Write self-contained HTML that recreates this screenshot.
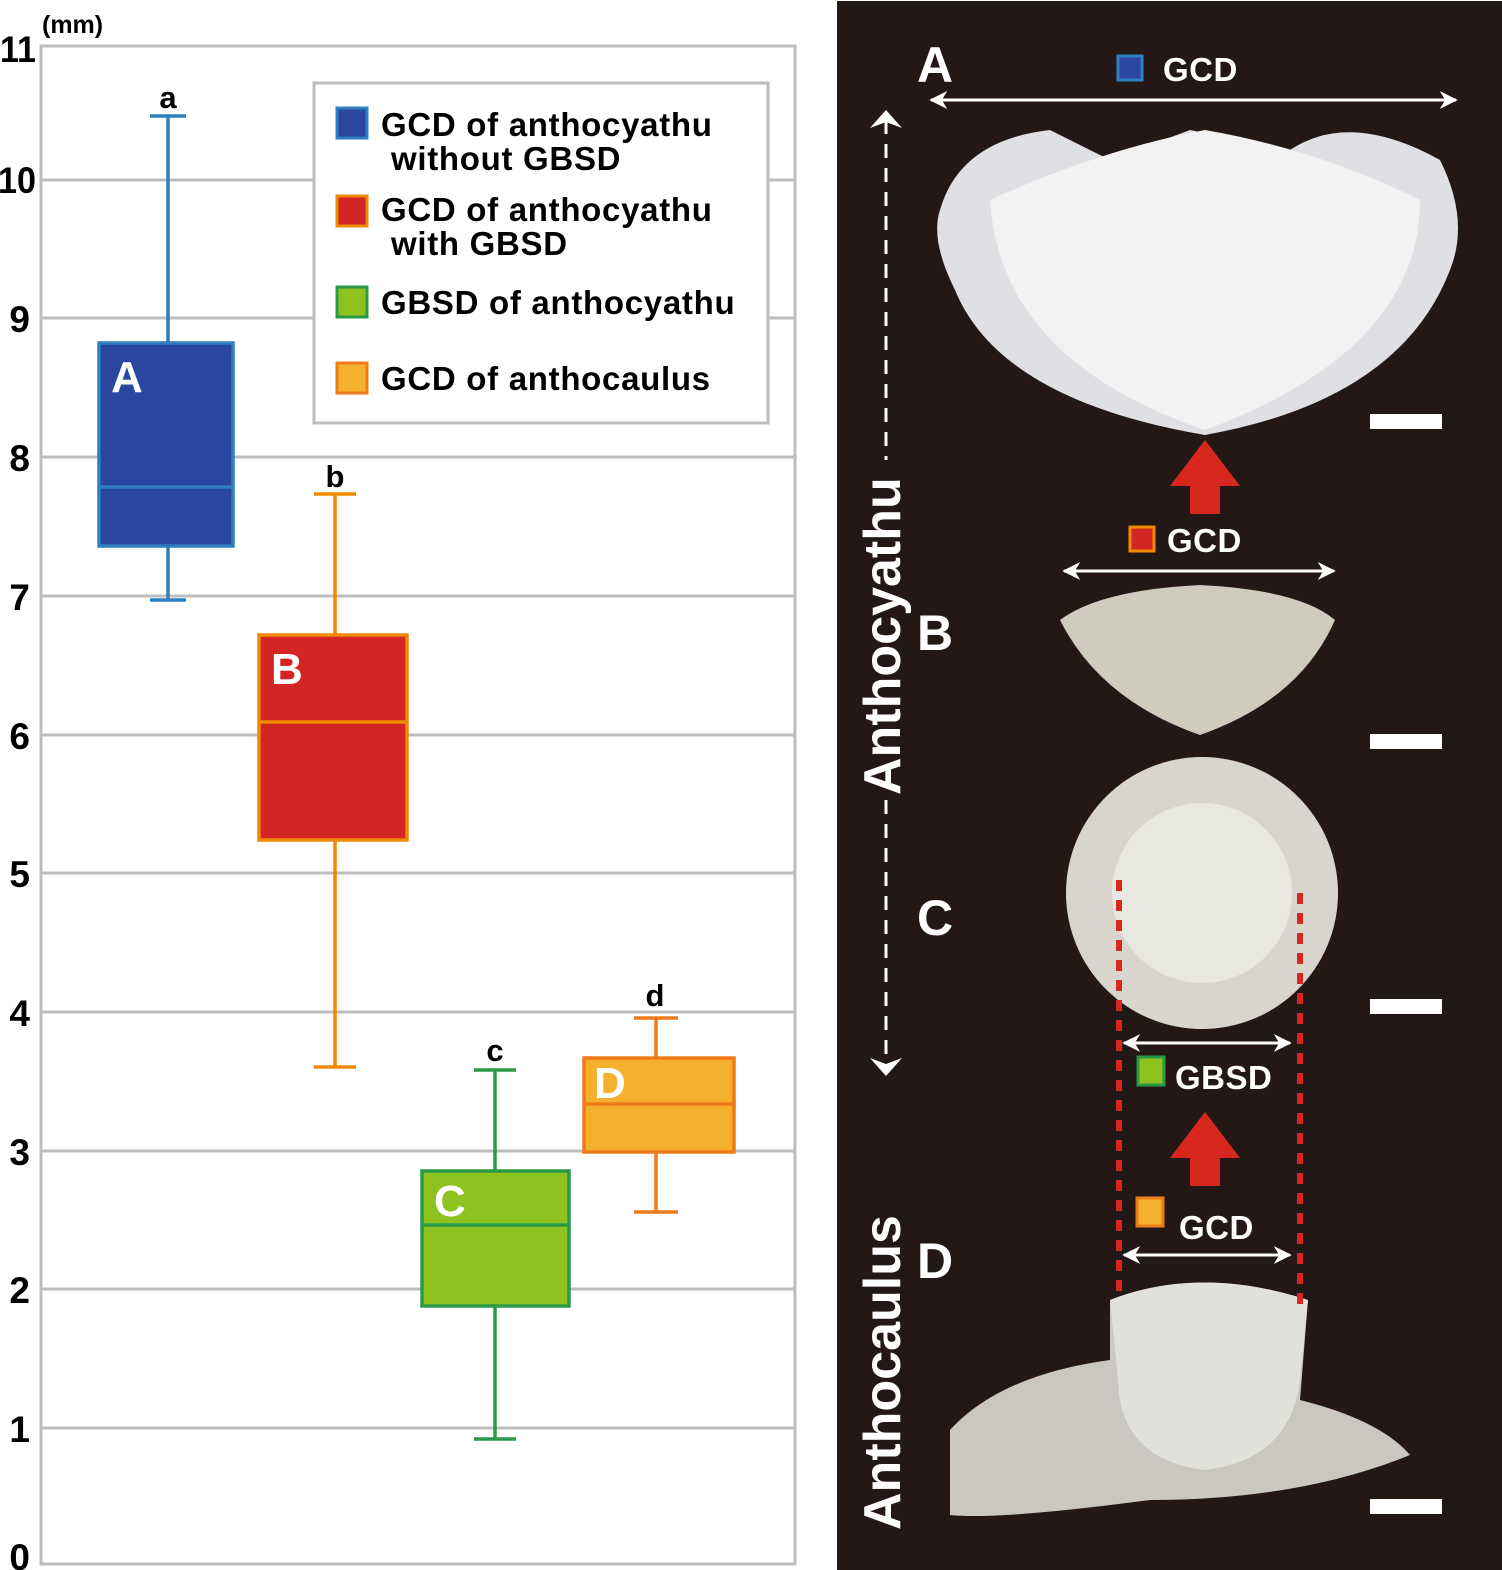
<!DOCTYPE html>
<html><head><meta charset="utf-8"><style>
html,body{margin:0;padding:0;background:#fff;}
svg{display:block;font-family:"Liberation Sans",sans-serif;font-weight:bold;}
</style></head><body>
<svg width="1502" height="1570" viewBox="0 0 1502 1570" xmlns="http://www.w3.org/2000/svg">
<defs>
<marker id="ah" viewBox="0 0 10 10" refX="9" refY="5" markerWidth="6" markerHeight="6" orient="auto-start-reverse"><path d="M0,0 L10,5 L0,10 L3,5z" fill="#fff"/></marker>
</defs>
<g stroke="#bdbdbd" stroke-width="3">
<line x1="41" y1="180" x2="795" y2="180"/>
<line x1="41" y1="318" x2="795" y2="318"/>
<line x1="41" y1="457" x2="797" y2="457"/>
<line x1="41" y1="596" x2="795" y2="596"/>
<line x1="41" y1="735" x2="795" y2="735"/>
<line x1="41" y1="873" x2="795" y2="873"/>
<line x1="41" y1="1012" x2="795" y2="1012"/>
<line x1="41" y1="1151" x2="795" y2="1151"/>
<line x1="41" y1="1289" x2="795" y2="1289"/>
<line x1="41" y1="1428" x2="795" y2="1428"/>
<rect x="41" y="46" width="754" height="1518" fill="none"/>
</g>
<g font-size="37" fill="#000" text-anchor="end">
<text x="36" y="62" textLength="36" lengthAdjust="spacingAndGlyphs">11</text><text x="36" y="193" textLength="38" lengthAdjust="spacingAndGlyphs">10</text><text x="30" y="332">9</text><text x="30" y="471">8</text><text x="30" y="610">7</text><text x="30" y="749">6</text><text x="30" y="887">5</text><text x="30" y="1026">4</text><text x="30" y="1165">3</text><text x="30" y="1303">2</text><text x="30" y="1442">1</text><text x="30" y="1570">0</text>
</g>
<text x="42" y="33" font-size="25">(mm)</text>
<rect x="314" y="83" width="454" height="340" fill="#fff" stroke="#bdbdbd" stroke-width="3"/>
<g font-size="33" fill="#000" letter-spacing="0.7">
<rect x="337" y="108" width="30" height="30" fill="#2a47a0" stroke="#2f7fc0" stroke-width="3"/>
<text x="381" y="136">GCD of anthocyathu</text><text x="391" y="170">without GBSD</text>
<rect x="337" y="196" width="30" height="30" fill="#d42525" stroke="#f08a00" stroke-width="3"/>
<text x="381" y="221">GCD of anthocyathu</text><text x="391" y="255">with GBSD</text>
<rect x="337" y="287" width="30" height="30" fill="#8dc21f" stroke="#2a9a48" stroke-width="3"/>
<text x="381" y="314">GBSD of anthocyathu</text>
<rect x="337" y="363" width="30" height="30" fill="#f5b02e" stroke="#ee7b1a" stroke-width="3"/>
<text x="381" y="390">GCD of anthocaulus</text>
</g>
<g stroke-width="3.5">
<g stroke="#2f7fc0"><line x1="168" y1="116" x2="168" y2="343"/><line x1="168" y1="546" x2="168" y2="600"/><line x1="150" y1="116" x2="186" y2="116"/><line x1="150" y1="600" x2="186" y2="600"/>
<rect x="99" y="343" width="134" height="203" fill="#2a47a0"/><line x1="99" y1="487" x2="233" y2="487"/></g>
<g stroke="#f08a00"><line x1="335" y1="494" x2="335" y2="635"/><line x1="335" y1="840" x2="335" y2="1067"/><line x1="314" y1="494" x2="356" y2="494"/><line x1="314" y1="1067" x2="356" y2="1067"/>
<rect x="259" y="635" width="148" height="205" fill="#d42525"/><line x1="259" y1="722" x2="407" y2="722"/></g>
<g stroke="#2a9a48"><line x1="495" y1="1070" x2="495" y2="1171"/><line x1="495" y1="1306" x2="495" y2="1439"/><line x1="474" y1="1070" x2="516" y2="1070"/><line x1="474" y1="1439" x2="516" y2="1439"/>
<rect x="422" y="1171" width="147" height="135" fill="#8dc21f"/><line x1="422" y1="1225" x2="569" y2="1225"/></g>
<g stroke="#ee7b1a"><line x1="656" y1="1018" x2="656" y2="1058"/><line x1="656" y1="1152" x2="656" y2="1212"/><line x1="634" y1="1018" x2="678" y2="1018"/><line x1="634" y1="1212" x2="678" y2="1212"/>
<rect x="584" y="1058" width="150" height="94" fill="#f5b02e"/><line x1="584" y1="1104" x2="734" y2="1104"/></g>
</g>
<g font-size="44" fill="#fff"><text x="111" y="392">A</text><text x="271" y="684">B</text><text x="434" y="1216">C</text><text x="594" y="1098">D</text></g>
<g font-size="31" fill="#000" text-anchor="middle"><text x="168" y="108">a</text><text x="335" y="487">b</text><text x="495" y="1061">c</text><text x="655" y="1006">d</text></g>
<rect x="837" y="1" width="665" height="1569" fill="#231815"/>
<g fill="#fff" font-size="50"><text x="917" y="82">A</text><text x="917" y="650">B</text><text x="917" y="935">C</text><text x="917" y="1278">D</text></g>
<g fill="#fff" font-size="33" letter-spacing="0.5">
<text x="1163" y="81">GCD</text><text x="1167" y="552">GCD</text><text x="1175" y="1089">GBSD</text><text x="1179" y="1239">GCD</text></g>
<rect x="1118" y="56" width="24" height="24" fill="#2a47a0" stroke="#2f7fc0" stroke-width="3"/>
<rect x="1130" y="527" width="24" height="24" fill="#d42525" stroke="#f08a00" stroke-width="3"/>
<rect x="1138" y="1057" width="26" height="28" fill="#8dc21f" stroke="#2a9a48" stroke-width="3"/>
<rect x="1137" y="1198" width="26" height="28" fill="#f5b02e" stroke="#ee7b1a" stroke-width="3"/>
<g stroke="#fff" stroke-width="3" marker-start="url(#ah)" marker-end="url(#ah)">
<line x1="931" y1="100" x2="1456" y2="100"/><line x1="1064" y1="571" x2="1334" y2="571"/>
<line x1="1124" y1="1043" x2="1290" y2="1043"/><line x1="1124" y1="1255" x2="1290" y2="1255"/></g>
<g stroke="#fff" stroke-width="3" stroke-dasharray="14,10"><line x1="886" y1="120" x2="886" y2="460"/><line x1="886" y1="800" x2="886" y2="1060"/></g>
<path d="M870,128 L886,110 L902,128 L886,122z M870,1058 L886,1076 L902,1058 L886,1064z" fill="#fff"/>
<g fill="#fff" font-size="52"><text transform="translate(900,795) rotate(-90)">Anthocyathu</text><text transform="translate(900,1530) rotate(-90)">Anthocaulus</text></g>
<g fill="#fff"><rect x="1370" y="414" width="72" height="15"/><rect x="1370" y="734" width="72" height="15"/><rect x="1370" y="999" width="72" height="15"/><rect x="1370" y="1499" width="72" height="15"/></g>
<path d="M940,210 Q960,140 1050,130 L1110,160 L1190,130 L1290,150 Q1350,110 1440,160 Q1470,220 1450,270 Q1400,400 1205,435 Q1000,400 955,290 Q930,240 940,210z" fill="#dfe0e3"/>
<path d="M990,200 Q1100,150 1205,130 Q1320,150 1420,200 Q1420,350 1205,430 Q1000,360 990,200z" fill="#f2f2f2"/>
<path d="M1060,620 Q1100,590 1200,585 Q1300,590 1335,620 Q1300,700 1200,735 Q1100,700 1060,620z" fill="#cfcbbd"/>
<circle cx="1202" cy="893" r="136" fill="#d8d6cc"/><circle cx="1202" cy="893" r="90" fill="#e8e7e0"/>
<path d="M950,1430 Q1000,1375 1110,1360 L1110,1300 Q1200,1265 1308,1300 L1300,1400 Q1380,1420 1410,1455 Q1300,1500 1150,1500 Q1000,1520 950,1515z" fill="#c9c7bf"/>
<path d="M1110,1300 Q1200,1265 1308,1300 L1300,1380 Q1290,1460 1205,1470 Q1120,1460 1118,1380z" fill="#e0e1da"/>
<g fill="#d8271e"><path d="M1170,486 L1205,440 L1240,486 L1220,486 L1220,514 L1190,514 L1190,486z"/><path d="M1170,1158 L1205,1112 L1240,1158 L1220,1158 L1220,1186 L1190,1186 L1190,1158z"/></g>
<g stroke="#d8271e" stroke-width="6" stroke-dasharray="11,9"><line x1="1119" y1="880" x2="1119" y2="1300"/><line x1="1300" y1="893" x2="1300" y2="1308"/></g>
</svg>
</body></html>
